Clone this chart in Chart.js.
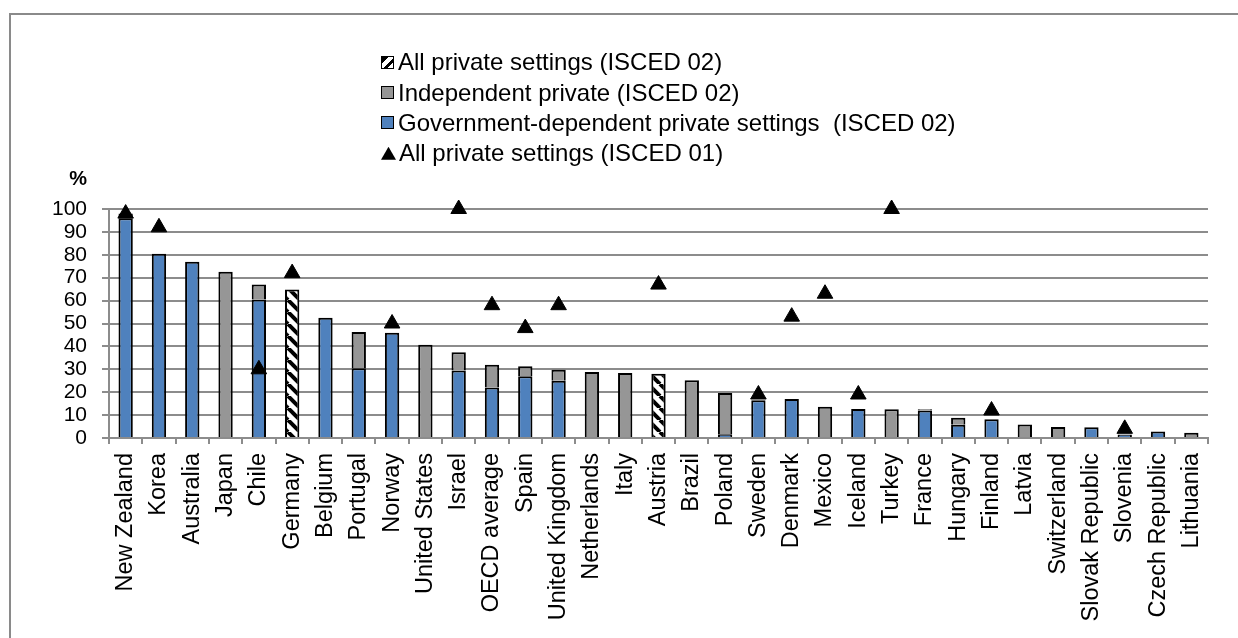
<!DOCTYPE html>
<html>
<head>
<meta charset="utf-8">
<script src="https://cdn.jsdelivr.net/npm/chart.js@4"></script>
<style>
  html, body { margin: 0; padding: 0; background: #fff; }
  body { width: 1238px; height: 638px; overflow: hidden; position: relative; font-family: "Liberation Sans", Arial, sans-serif; }
  #frame { position: absolute; left: 9px; top: 13px; width: 1300px; height: 700px; border-left: 2px solid #8a8a8a; border-top: 2px solid #8a8a8a; }
  #wrap { position: absolute; left: 0; top: 0; width: 1238px; height: 638px; }
  #legend { position: absolute; left: 381px; top: 47px; font-size: 24px; color: #000; }
  #legend .item { height: 30.4px; line-height: 30px; white-space: pre; display: flex; align-items: center; }
  #legend .box { width: 11px; height: 11px; border: 1.5px solid #000; margin-right: 4px; flex: none; }
  #legend .tri { width: 15px; height: 13px; background: #000; clip-path: polygon(50% 0, 100% 100%, 0 100%); margin-right: 3px; flex: none; }
  #pct { position: absolute; right: calc(1238px - 87px); top: 167px; font-size: 20px; font-weight: bold; }
</style>
</head>
<body>
<div id="frame"></div>
<div id="wrap"><canvas id="c" width="1238" height="638"></canvas></div>
<div id="pct">%</div>
<div id="legend">
  <div class="item"><span class="box" style="background: linear-gradient(135deg, #000 0 30%, #fff 30% 55%, #000 55% 75%, #fff 75%);"></span>All private settings (ISCED 02)</div>
  <div class="item"><span class="box" style="background:#969696"></span>Independent private (ISCED 02)</div>
  <div class="item"><span class="box" style="background:#4f81bd"></span>Government-dependent private settings  (ISCED 02)</div>
  <div class="item"><span class="tri"></span>All private settings (ISCED 01)</div>
</div>
<script>
const categories = ["New Zealand", "Korea", "Australia", "Japan", "Chile", "Germany", "Belgium", "Portugal", "Norway",
  "United States", "Israel", "OECD average", "Spain", "United Kingdom", "Netherlands", "Italy", "Austria", "Brazil",
  "Poland", "Sweden", "Denmark", "Mexico", "Iceland", "Turkey", "France", "Hungary", "Finland", "Latvia",
  "Switzerland", "Slovak Republic", "Slovenia", "Czech Republic", "Lithuania"];

// Government-dependent private settings (ISCED 02)
const govDependent = [96, 80.5, 77, null, 60.5, null, 52.5, 30.5, 46, null, 29.5, 22, 27, 25, null, null, null,
  null, 1.6, 16.5, 17, null, 12.7, null, 12, 5.8, 8.2, null, null, 4.7, 1.5, 2.8, null];
// Independent private (ISCED 02)
const independent = [2, null, null, 72.6, 6.5, null, null, 15.8, null, 40.7, 8, 10, 4.3, 4.8, 28.8, 28.4, null,
  25.2, 18.1, null, null, 13.6, null, 12.6, 0.6, 3, null, 5.9, 4.8, null, null, null, 2.3];
// All private settings (ISCED 02), no breakdown available
const allPrivate02 = [null, null, null, null, null, 64.8, null, null, null, null, null, null, null, null, null, null,
  28.1, null, null, null, null, null, null, null, null, null, null, null, null, null, null, null, null];
// All private settings (ISCED 01)
const allPrivate01 = [98, 92, null, null, 30, 72, null, null, 50, null, 100, 58, 48, 58, null, null, 67, null, null,
  19, 53, 63, 19, 100, null, null, 12, null, null, null, 4, null, null];

const yTicks = [0, 10, 20, 30, 40, 50, 60, 70, 80, 90, 100];

const BLUE = "#4f81bd", GREY = "#969696", GRID = "#8c8c8c";
const FONT = "'Liberation Sans', Arial, sans-serif";

// wide downward diagonal hatch, black on white
function hatch() {
  const t = document.createElement("canvas");
  t.width = 12; t.height = 12;
  const g = t.getContext("2d");
  g.fillStyle = "#fff"; g.fillRect(0, 0, 12, 12);
  g.strokeStyle = "#000"; g.lineWidth = 4;
  for (const x0 of [-12, 0, 12]) { g.beginPath(); g.moveTo(x0, 0); g.lineTo(x0 + 12, 12); g.stroke(); }
  return g.createPattern(t, "repeat");
}

const barBase = { type: "bar", borderColor: "#000", borderWidth: 2, barPercentage: 0.43, categoryPercentage: 1, order: 1, stack: "s" };

new Chart(document.getElementById("c"), {
  data: {
    labels: categories,
    datasets: [
      { ...barBase, label: "Government-dependent private settings  (ISCED 02)", data: govDependent, backgroundColor: BLUE },
      { ...barBase, label: "Independent private (ISCED 02)", data: independent, backgroundColor: GREY },
      { ...barBase, label: "All private settings (ISCED 02)", data: allPrivate02, backgroundColor: hatch() },
      {
        type: "line", label: "All private settings (ISCED 01)", data: allPrivate01, showLine: false, stack: "tri", order: 0,
        clip: false, pointStyle: "triangle", pointRadius: 9, pointBackgroundColor: "#000", pointBorderColor: "#000", pointBorderWidth: 1,
      },
    ],
  },
  options: {
    responsive: false,
    animation: false,
    layout: { padding: { top: 209, right: 30, bottom: 0, left: 0 } },
    plugins: { legend: { display: false }, tooltip: { enabled: false } },
    scales: {
      x: {
        stacked: true,
        offset: true,
        afterFit: (s) => { s.height = 200; },
        grid: { offset: true, drawOnChartArea: false, drawTicks: true, tickLength: 6, color: GRID, lineWidth: 2 },
        border: { color: GRID, width: 2 },
        ticks: { autoSkip: false, minRotation: 90, maxRotation: 90, padding: 9, color: "#000", font: { family: FONT, size: 23.5 } },
      },
      y: {
        stacked: true,
        min: 0, max: 100,
        afterFit: (s) => { s.width = 109; },
        afterBuildTicks: (s) => { s.ticks = yTicks.map((v) => ({ value: v })); },
        grid: { color: GRID, lineWidth: 2, tickLength: 7 },
        border: { color: GRID, width: 2 },
        ticks: { autoSkip: false, stepSize: 10, padding: 15, color: "#000", font: { family: FONT, size: 21 } },
      },
    },
  },
});
</script>
</body>
</html>
